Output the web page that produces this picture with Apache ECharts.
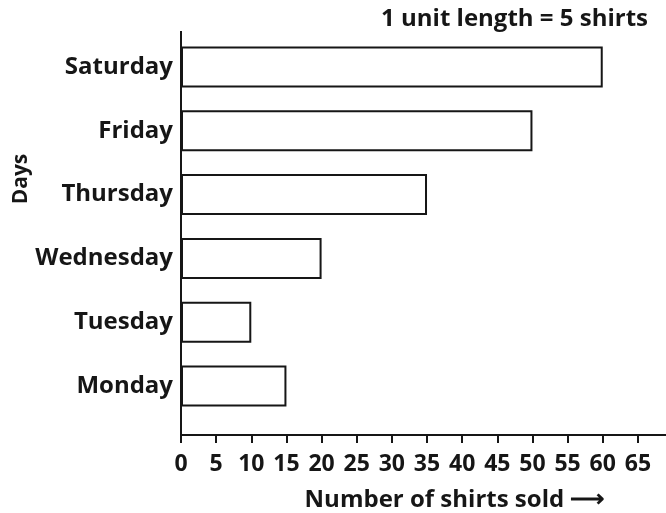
<!DOCTYPE html>
<html>
<head>
<meta charset="utf-8">
<script src="https://cdn.jsdelivr.net/npm/echarts@6/dist/echarts.min.js"></script>
<style>
  html, body { margin: 0; padding: 0; background: #fff; }
</style>
</head>
<body>
<div id="main" style="width: 666px;height:513px;"></div>
<script>
// days, bottom to top
var days = ['Monday', 'Tuesday', 'Wednesday', 'Thursday', 'Friday', 'Saturday'];
var shirts = [15, 10, 20, 35, 50, 60];
var xTicks = [0, 5, 10, 15, 20, 25, 30, 35, 40, 45, 50, 55, 60, 65];

var ink = '#161616';
var font = '"Open Sans", sans-serif';

var myChart = echarts.init(document.getElementById('main'));
var option = {
  backgroundColor: '#fff',
  animation: false,
  grid: { left: 181, right: 0, top: 35, bottom: 95, outerBoundsMode: 'none' },
  graphic: [
    // y axis line runs a little past the grid, down to the offset x axis
    { type: 'line', shape: { x1: 181, y1: 31, x2: 181, y2: 36 }, style: { stroke: ink, lineWidth: 2 } },
    { type: 'line', shape: { x1: 181, y1: 417, x2: 181, y2: 436 }, style: { stroke: ink, lineWidth: 2 } },
    {
      type: 'text', right: 18, top: 7,
      style: { text: '1 unit length = 5 shirts', font: 'bold 24px ' + font, fill: ink }
    },
    {
      type: 'text', x: 21, y: 179, rotation: Math.PI / 2,
      style: { text: 'Days', font: 'bold 21px ' + font, fill: ink, align: 'center', verticalAlign: 'middle' }
    }
  ],
  xAxis: {
    type: 'value',
    min: 0,
    max: 69,
    offset: 17,
    splitLine: { show: false },
    axisLine: { show: true, lineStyle: { color: ink, width: 2 } },
    axisTick: { show: true, customValues: xTicks, length: 8, lineStyle: { color: ink, width: 2 } },
    axisLabel: {
      customValues: xTicks, color: ink, fontSize: 23, fontWeight: 'bold',
      fontFamily: font, margin: 18
    },
    name: 'Number of shirts sold \u27f6',
    nameLocation: 'middle',
    nameGap: 53,
    nameTextStyle: { color: ink, fontSize: 24, fontWeight: 'bold', fontFamily: font, padding: [0, 0, 0, 62] }
  },
  yAxis: {
    type: 'category',
    data: days,
    axisLine: { show: true, lineStyle: { color: ink, width: 2 } },
    axisTick: { show: false },
    axisLabel: { color: ink, fontSize: 24, fontWeight: 'bold', fontFamily: font, margin: 8 }
  },
  series: [{
    type: 'bar',
    data: shirts,
    barWidth: 41,
    itemStyle: { color: '#fff', borderColor: ink, borderWidth: 2 }
  }]
};
myChart.setOption(option);
</script>
</body>
</html>
